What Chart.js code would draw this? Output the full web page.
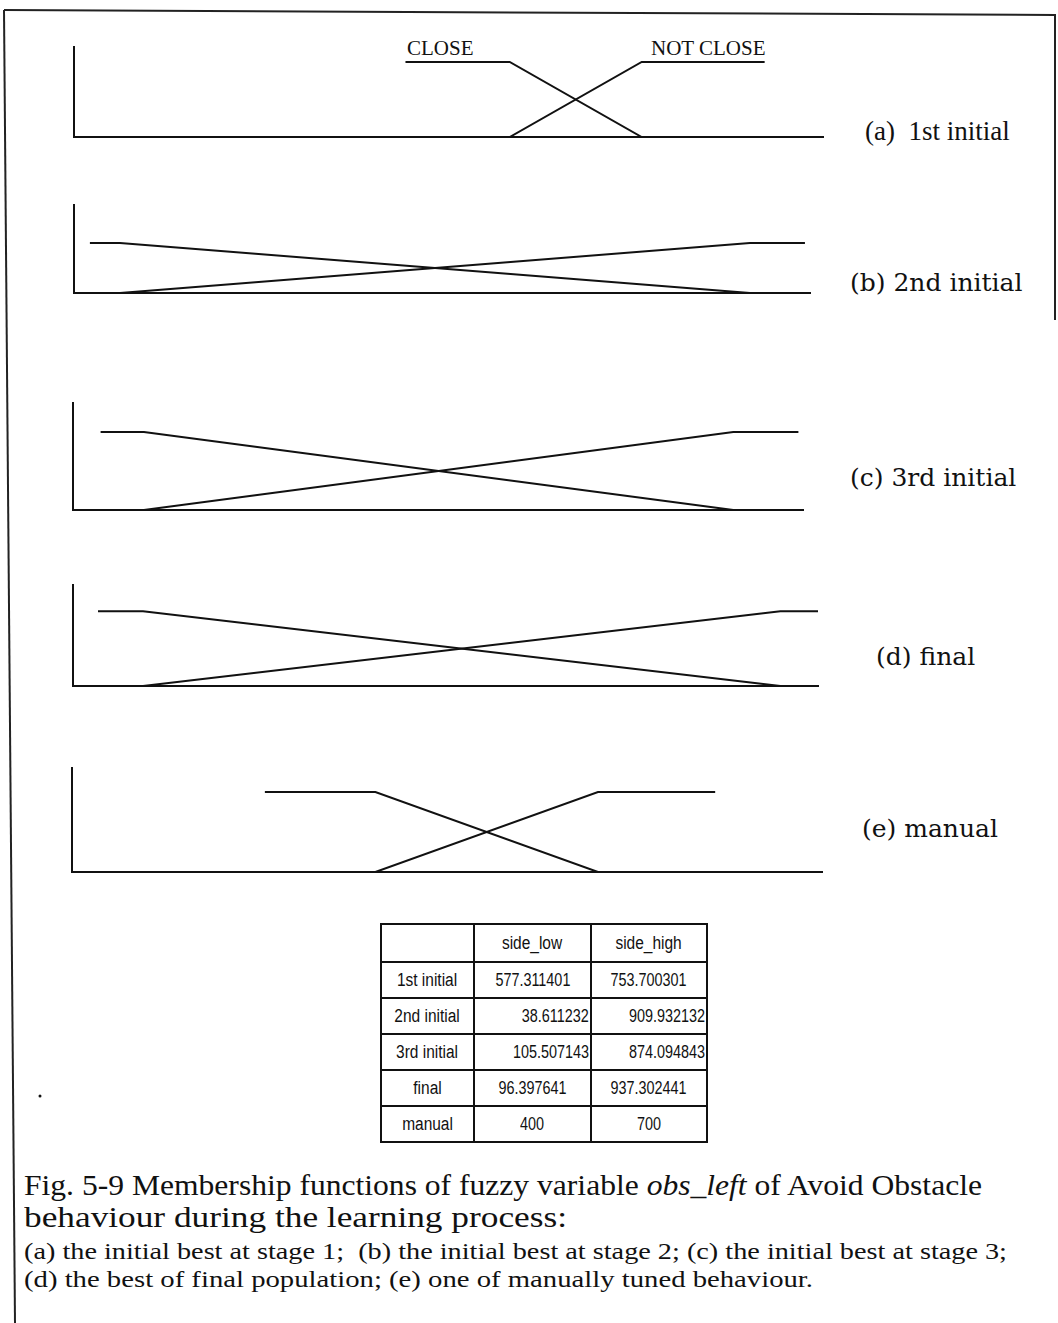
<!DOCTYPE html>
<html><head><meta charset="utf-8">
<script src="https://cdn.jsdelivr.net/npm/chart.js@4.4.0/dist/chart.umd.min.js"></script>
<style>
html,body{margin:0;padding:0;background:#fff;}
body{width:1058px;height:1323px;position:relative;overflow:hidden;}
.abs{position:absolute;white-space:nowrap;color:#111;line-height:1;}
canvas{position:absolute;left:0;}
.mf{font-family:"Liberation Serif","Times New Roman",serif;font-size:21px;}
.plab{font-family:"DejaVu Serif",serif;font-size:25px;}
.cap{font-family:"Liberation Serif","Times New Roman",serif;transform-origin:0 50%;}
table.t{position:absolute;left:380px;top:923px;border-collapse:collapse;table-layout:fixed;width:326px;font-family:"Liberation Sans",Arial,sans-serif;font-size:18px;color:#111;}
table.t td{border:2px solid #111;padding:0 1px;text-align:center;height:34px;white-space:nowrap;overflow:visible;}
table.t tr:first-child td{height:36px;}
table.t td.r{text-align:right;}
table.t span{display:inline-block;transform:scaleX(0.86);transform-origin:50% 50%;}
table.t span.n{transform:scaleX(0.8);}
table.t td.r span{transform-origin:100% 50%;}
</style></head><body>
<svg width="1058" height="1323" style="position:absolute;left:0;top:0">
  <polyline points="4,10 1055,15 1055,320" fill="none" stroke="#222" stroke-width="2"/>
  <line x1="4" y1="10" x2="15" y2="1323" stroke="#222" stroke-width="2"/>
  <circle cx="40" cy="1096" r="1.5" fill="#111"/>
</svg>
<div id="labels"></div>
<table class="t" id="tbl"></table>
<div class="abs cap" data-w="958" style="left:24px;top:1170px;font-size:30px;">Fig. 5-9 Membership functions of fuzzy variable <i>obs_left</i> of Avoid Obstacle</div>
<div class="abs cap" data-w="543" style="left:24px;top:1202px;font-size:30px;">behaviour during the learning process:</div>
<div class="abs cap" data-w="983" style="left:24px;top:1239px;font-size:24px;">(a) the initial best at stage 1;&nbsp; (b) the initial best at stage 2; (c) the initial best at stage 3;</div>
<div class="abs cap" data-w="789" style="left:24px;top:1267px;font-size:24px;">(d) the best of final population; (e) one of manually tuned behaviour.</div>
<script>
// ---- data ----
const panelLabels = ["(a)\u00a0 1st initial", "(b) 2nd initial", "(c) 3rd initial", "(d) final", "(e) manual"];
const rowNames = ["1st initial", "2nd initial", "3rd initial", "final", "manual"];
const colNames = ["side_low", "side_high"];
const sideLowText = ["577.311401", "38.611232", "105.507143", "96.397641", "400"];
const sideHighText = ["753.700301", "909.932132", "874.094843", "937.302441", "700"];
const sideLow = [577.311401, 38.611232, 105.507143, 96.397641, 400];
const sideHigh = [753.700301, 909.932132, 874.094843, 937.302441, 700];
const memberNames = ["CLOSE", "NOT CLOSE"];
// where the plotted plateaus begin / end
const closeStart = [438, -3, 49, 37, 251];
const notCloseEnd = [918, 986, 959, 1016, 858];
// axis extents (value units) and vertical axis top (membership units)
const axisMin = [-5, -25, 13, 4, -9];
const axisMax = [996, 993, 965, 987, 1002];
const yTop = [1.2, 1.76, 1.37, 1.35, 1.3];

// ---- layout ----
const boxes = [
  {left:74, right:823, top:47, bottom:137, lab:[865,118], font:"cap", fs:27},
  {left:74, right:810, top:205, bottom:293, lab:[850,270]},
  {left:73, right:803, top:403, bottom:510, lab:[850,465]},
  {left:73, right:818, top:585, bottom:686, lab:[876,644]},
  {left:72, right:822, top:768, bottom:872, lab:[862,816]}
];
const ink = '#111';
function axisOpts(min, max, type){
  return {type: type, min: min, max: max, ticks:{display:false},
    grid:{display:false, drawTicks:false}, border:{display:true, color:ink, width:2}};
}
const labelsDiv = document.getElementById('labels');
boxes.forEach((b, i) => {
  const pad = 12;
  const cv = document.createElement('canvas');
  const h = b.bottom - b.top + 2*pad;
  cv.width = 1058; cv.height = h;
  cv.style.top = (b.top - pad) + 'px';
  cv.style.width = '1058px'; cv.style.height = h + 'px';
  document.body.appendChild(cv);
  new Chart(cv, {
    type: 'line',
    data: {datasets: [
      {label: memberNames[0], data: [{x: closeStart[i], y: 1}, {x: sideLow[i], y: 1}, {x: sideHigh[i], y: 0}],
       borderColor: ink, borderWidth: 2, pointRadius: 0, tension: 0, fill: false},
      {label: memberNames[1], data: [{x: sideLow[i], y: 0}, {x: sideHigh[i], y: 1}, {x: notCloseEnd[i], y: 1}],
       borderColor: ink, borderWidth: 2, pointRadius: 0, tension: 0, fill: false}
    ]},
    options: {
      responsive: false, animation: false, events: [],
      layout: {padding: {left: b.left, right: 1058 - b.right, top: pad, bottom: pad}},
      plugins: {legend: {display: false}, tooltip: {enabled: false}},
      scales: {x: axisOpts(axisMin[i], axisMax[i], 'linear'), y: axisOpts(0, yTop[i], 'linear')}
    }
  });
  const d = document.createElement('div');
  d.className = 'abs ' + (b.font === 'cap' ? 'mf' : 'plab');
  if (b.fs) d.style.fontSize = b.fs + 'px';
  d.style.left = b.lab[0] + 'px'; d.style.top = b.lab[1] + 'px';
  d.textContent = panelLabels[i];
  labelsDiv.appendChild(d);
});
// member labels on panel (a)
[[407, 38], [651, 38]].forEach((p, k) => {
  const d = document.createElement('div');
  d.className = 'abs mf';
  d.style.left = p[0] + 'px'; d.style.top = p[1] + 'px';
  d.textContent = memberNames[k];
  labelsDiv.appendChild(d);
});
// table
const tbl = document.getElementById('tbl');
const widths = [93, 117, 116];
let html = '<colgroup>' + widths.map(w => '<col style="width:' + w + 'px">').join('') + '</colgroup>';
html += '<tr><td></td>' + colNames.map(c => '<td><span>' + c + '</span></td>').join('') + '</tr>';
rowNames.forEach((r, i) => {
  const cls = (i === 1 || i === 2) ? ' class="r"' : '';
  html += '<tr><td><span>' + r + '</span></td><td' + cls + '><span class="n">' + sideLowText[i] + '</span></td><td' + cls + '><span class="n">' + sideHighText[i] + '</span></td></tr>';
});
tbl.innerHTML = html;
// fit caption lines to the widths they take in the figure
document.querySelectorAll('.cap[data-w]').forEach(el => {
  const w = el.getBoundingClientRect().width;
  el.style.transform = 'scaleX(' + (parseFloat(el.dataset.w) / w).toFixed(4) + ')';
});
</script>
</body></html>
